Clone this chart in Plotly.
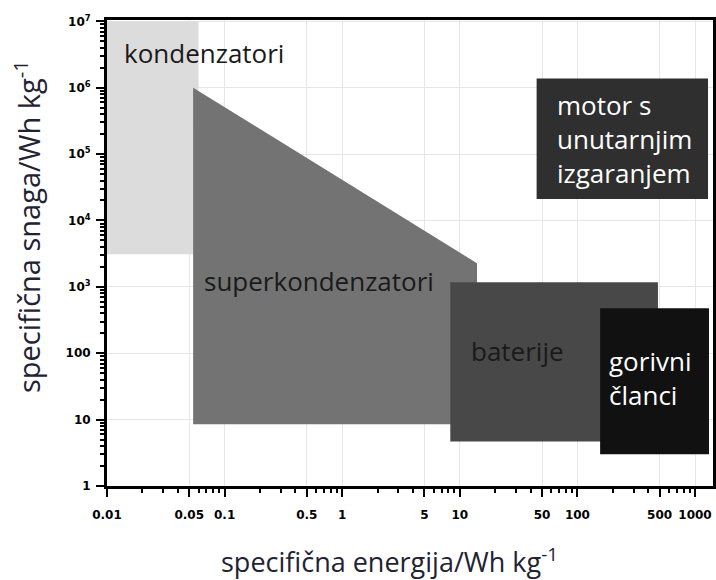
import math
import plotly.graph_objects as go

# Region bounds (specific energy Wh/kg, specific power W/kg)
kond_x = [0.01, 0.06, 0.06, 0.01]
kond_y = [3100, 3100, 1e7, 1e7]

superk_x = [0.054, 14, 14, 0.054]
superk_y = [1e6, 2270, 8.5, 8.5]

bat_x = [8.3, 484, 484, 8.3]
bat_y = [1170, 1170, 4.7, 4.7]

gor_x = [156, 1315, 1315, 156]
gor_y = [478, 478, 3.0, 3.0]

motor_x = [45, 1290, 1290, 45]
motor_y = [1.38e6, 1.38e6, 21000, 21000]

x_tickvals = [0.01, 0.05, 0.1, 0.5, 1, 5, 10, 50, 100, 500, 1000]
x_ticktext = ["0.01", "0.05", "0.1", "0.5", "1", "5", "10", "50", "100", "500", "1000"]
y_tickvals = [1, 10, 100, 1e3, 1e4, 1e5, 1e6, 1e7]
y_ticktext = ["1", "10", "100", "10<sup>3</sup>", "10<sup>4</sup>", "10<sup>5</sup>",
              "10<sup>6</sup>", "10<sup>7</sup>"]

x_minor = [m * 10 ** e for e in range(-2, 3) for m in (2, 3, 4, 6, 7, 8, 9)] + [2000]
y_minor = [m * 10 ** e for e in range(0, 7) for m in (2, 3, 4, 5, 6, 7, 8, 9)]

fig = go.Figure()

def region(xs, ys, color):
    fig.add_trace(go.Scatter(x=xs + [xs[0]], y=ys + [ys[0]], mode="lines", fill="toself",
                             fillcolor=color, line=dict(width=0, color=color),
                             hoverinfo="skip", showlegend=False))

region(kond_x, kond_y, "#dcdcdc")
region(superk_x, superk_y, "#737373")
region(bat_x, bat_y, "#484848")
region(gor_x, gor_y, "#111111")
region(motor_x, motor_y, "#2f2f2f")

lab_font = "Open Sans"
def label(text, lx, ly, color):
    fig.add_annotation(x=math.log10(lx), y=math.log10(ly), xref="x", yref="y", text=text,
                       showarrow=False, xanchor="left", yanchor="middle", align="left",
                       font=dict(family=lab_font, size=26, color=color))

label("kondenzatori", 0.0135, 3.3e6, "#1a1a1a")
label("superkondenzatori", 0.064, 1225, "#1a1a1a")
label("baterije", 12.0, 108, "#1a1a1a")
label("gorivni<br>članci", 180, 42, "#ffffff")
label("motor s<br>unutarnjim<br>izgaranjem", 65, 1.68e5, "#ffffff")

axis_common = dict(
    type="log", showline=True, linewidth=3, linecolor="black", mirror=True,
    ticks="outside", ticklen=8, tickwidth=2, tickcolor="black",
    showgrid=True, gridcolor="#e6e6e6", gridwidth=1,
    tickfont=dict(family="DejaVu Sans", size=12, color="black", weight="bold"),
    zeroline=False, automargin=False,
)

fig.update_xaxes(**axis_common, tickmode="array", tickvals=x_tickvals, ticktext=x_ticktext,
                 range=[-2, 3.153], ticklabelstandoff=8,
                 minor=dict(tickmode="array", tickvals=x_minor, ticks="outside", ticklen=4,
                            tickwidth=2, tickcolor="black", showgrid=False))
fig.update_yaxes(**axis_common, tickmode="array", tickvals=y_tickvals, ticktext=y_ticktext,
                 range=[0, 7.02], ticklabelstandoff=3,
                 minor=dict(tickmode="array", tickvals=y_minor, ticks="outside", ticklen=4,
                            tickwidth=2, tickcolor="black", showgrid=False))

fig.add_annotation(text="specifična energija/Wh kg<sup>-1</sup>", xref="paper", yref="paper",
                   x=(389 - 107) / 606, y=-(560 - 486) / 466, xanchor="center", yanchor="middle",
                   showarrow=False, font=dict(family=lab_font, size=27, color="#222233"))
fig.add_annotation(text="specifična snaga/Wh kg<sup>-1</sup>", xref="paper", yref="paper",
                   x=-(107 - 27) / 606, y=(486 - 227) / 466, xanchor="center", yanchor="middle",
                   textangle=-90, showarrow=False,
                   font=dict(family=lab_font, size=29, color="#222233"))

fig.update_layout(width=716, height=580, margin=dict(l=107, r=3, t=20, b=94),
                  paper_bgcolor="white", plot_bgcolor="white", showlegend=False)

fig.write_html("out.html", config={"displayModeBar": False},
               post_script="document.body.style.margin='0';document.body.style.overflow='hidden';")
